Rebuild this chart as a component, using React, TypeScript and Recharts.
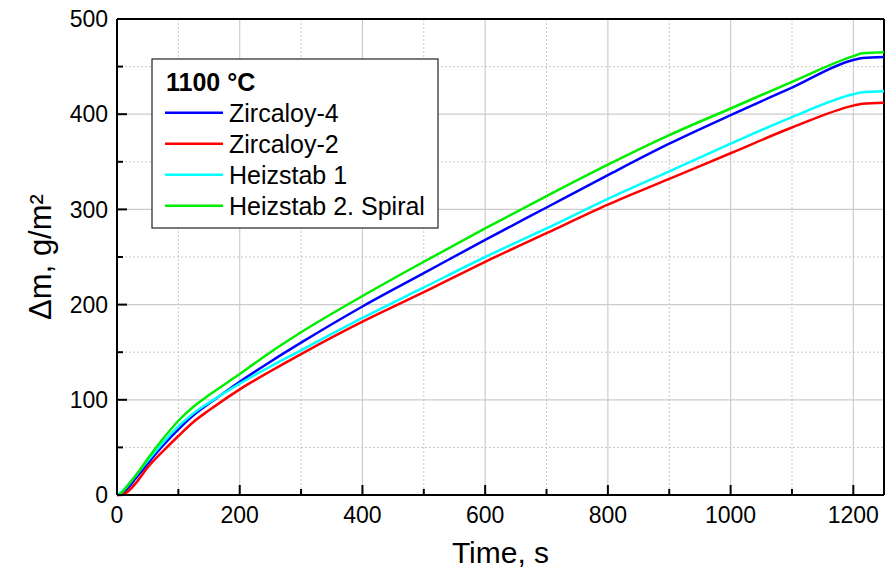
import React from 'react';
import { LineChart, Line, XAxis, YAxis, CartesianGrid, ReferenceLine } from 'recharts';

const time = [0, 5, 10, 20, 30, 50, 75, 100, 125, 150, 200, 250, 300, 400, 500, 600, 700, 800, 900, 1000, 1100, 1200, 1215, 1250];
const zircaloy4 = [0, 0.5, 2, 9, 17, 33, 52, 69, 84, 96, 119, 140, 160, 198, 233, 268, 302, 336, 369, 399, 428, 457, 459, 460];
const zircaloy2 = [0, 0, 0.5, 5, 12, 29, 46, 62, 77, 89, 111, 130, 148, 182, 213, 245, 275, 305, 332, 359, 386, 409, 411, 412];
const heizstab1 = [0, 2, 5, 12, 20, 36, 55, 72, 86, 97, 117, 135, 152, 186, 218, 250, 280, 311, 340, 369, 397, 421, 423, 424];
const heizstab2 = [0, 1, 4, 12, 20, 38, 59, 78, 93, 105, 127, 150, 171, 209, 245, 280, 314, 347, 378, 406, 434, 461, 464, 465];

const seriesNames = ['Zircaloy-4', 'Zircaloy-2', 'Heizstab 1', 'Heizstab 2. Spiral'];
const seriesKeys = ['z4', 'z2', 'h1', 'h2'];
const seriesColors = ['#0000ff', '#ff0000', '#00ffff', '#00ee00'];
const seriesValues = [zircaloy4, zircaloy2, heizstab1, heizstab2];

const legendTitle = '1100 °C';
const xTitle = 'Time, s';
const yTitle = 'Δm, g/m²';

const xTicks = [0, 100, 200, 300, 400, 500, 600, 700, 800, 900, 1000, 1100, 1200];
const xMajor = [200, 400, 600, 800, 1000, 1200];
const xMinor = [100, 300, 500, 700, 900, 1100];
const yTicks = [0, 50, 100, 150, 200, 250, 300, 350, 400, 450, 500];
const yMajor = [100, 200, 300, 400];
const yMinor = [50, 150, 250, 350, 450];

const data = time.map((t, i) => {
  const row: any = { t };
  seriesKeys.forEach((k, j) => { row[k] = seriesValues[j][i]; });
  return row;
});

const FONT = '"Liberation Sans", Arial, sans-serif';

const XTick = (props: any) => {
  const { x, y, payload } = props;
  const v = payload.value;
  const major = v % 200 === 0;
  return (
    <g>
      <line x1={x} x2={x} y1={y} y2={y - (major ? 10 : 6)} stroke="#000" strokeWidth={2} />
      {major && (
        <text x={x} y={y + 28} textAnchor="middle" fontSize={23} fontFamily={FONT} fill="#000">{v}</text>
      )}
    </g>
  );
};

const YTick = (props: any) => {
  const { x, y, payload } = props;
  const v = payload.value;
  const major = v % 100 === 0;
  return (
    <g>
      <line x1={x} x2={x + (major ? 10 : 6)} y1={y} y2={y} stroke="#000" strokeWidth={2} />
      {major && (
        <text x={x - 9} y={y} dy="0.36em" textAnchor="end" fontSize={23} fontFamily={FONT} fill="#000">{v}</text>
      )}
    </g>
  );
};

const Legend = () => (
  <svg width={288} height={171} style={{ position: 'absolute', left: 151, top: 58 }}>
    <rect x={1} y={1} width={286} height={169} fill="#fff" stroke="#222" strokeWidth={1.2} />
    <text x={15} y={33} fontSize={25} fontWeight="bold" fontFamily={FONT} fill="#000">{legendTitle}</text>
    {seriesNames.map((n, i) => {
      const cy = 54.7 + i * 31;
      return (
        <g key={n}>
          <line x1={14} x2={72} y1={cy} y2={cy} stroke={seriesColors[i]} strokeWidth={2.5} />
          <text x={78} y={cy + 9} fontSize={25} fontFamily={FONT} fill="#000">{n}</text>
        </g>
      );
    })}
  </svg>
);

export default function App() {
  return (
    <div style={{ position: 'absolute', left: 0, top: 0, width: 889, height: 571, background: '#fff' }}>
      <LineChart width={889} height={571} data={data} margin={{ top: 19, right: 5, bottom: 46, left: 57 }}>
        <CartesianGrid horizontalValues={yMinor} verticalValues={xMinor} stroke="#c8c8c8" strokeDasharray="2 2" strokeWidth={1} />
        <CartesianGrid horizontalValues={yMajor} verticalValues={xMajor} stroke="#cccccc" strokeWidth={1.2} />
        <XAxis
          type="number"
          dataKey="t"
          domain={[0, 1250]}
          ticks={xTicks}
          interval={0}
          height={30}
          tickSize={0}
          tickMargin={0}
          tick={(p: any) => <XTick {...p} />}
          axisLine={{ stroke: '#000', strokeWidth: 2 }}
          tickLine={false}
          label={{
            content: (p: any) => {
              const vb = p.viewBox;
              return (
                <text x={vb.x + vb.width / 2} y={vb.y + 68} textAnchor="middle" fontSize={30} fontFamily={FONT} fill="#000">{xTitle}</text>
              );
            },
          }}
        />
        <YAxis
          type="number"
          domain={[0, 500]}
          ticks={yTicks}
          interval={0}
          width={60}
          tickSize={0}
          tickMargin={0}
          tick={(p: any) => <YTick {...p} />}
          axisLine={{ stroke: '#000', strokeWidth: 2 }}
          tickLine={false}
          label={{
            content: (p: any) => {
              const vb = p.viewBox;
              const cx = 51;
              const cy = vb.y + vb.height / 2;
              return (
                <text x={cx} y={cy} transform={`rotate(-90 ${cx} ${cy})`} textAnchor="middle" fontSize={31} fontFamily={FONT} fill="#000">{yTitle}</text>
              );
            },
          }}
        />
        <ReferenceLine y={500} stroke="#000" strokeWidth={2} />
        <ReferenceLine x={1250} stroke="#000" strokeWidth={2} />
        {seriesKeys.map((k, i) => (
          <Line
            key={k}
            type="monotone"
            dataKey={k}
            name={seriesNames[i]}
            stroke={seriesColors[i]}
            strokeWidth={2.5}
            dot={false}
            isAnimationActive={false}
          />
        ))}
      </LineChart>
      <Legend />
    </div>
  );
}
